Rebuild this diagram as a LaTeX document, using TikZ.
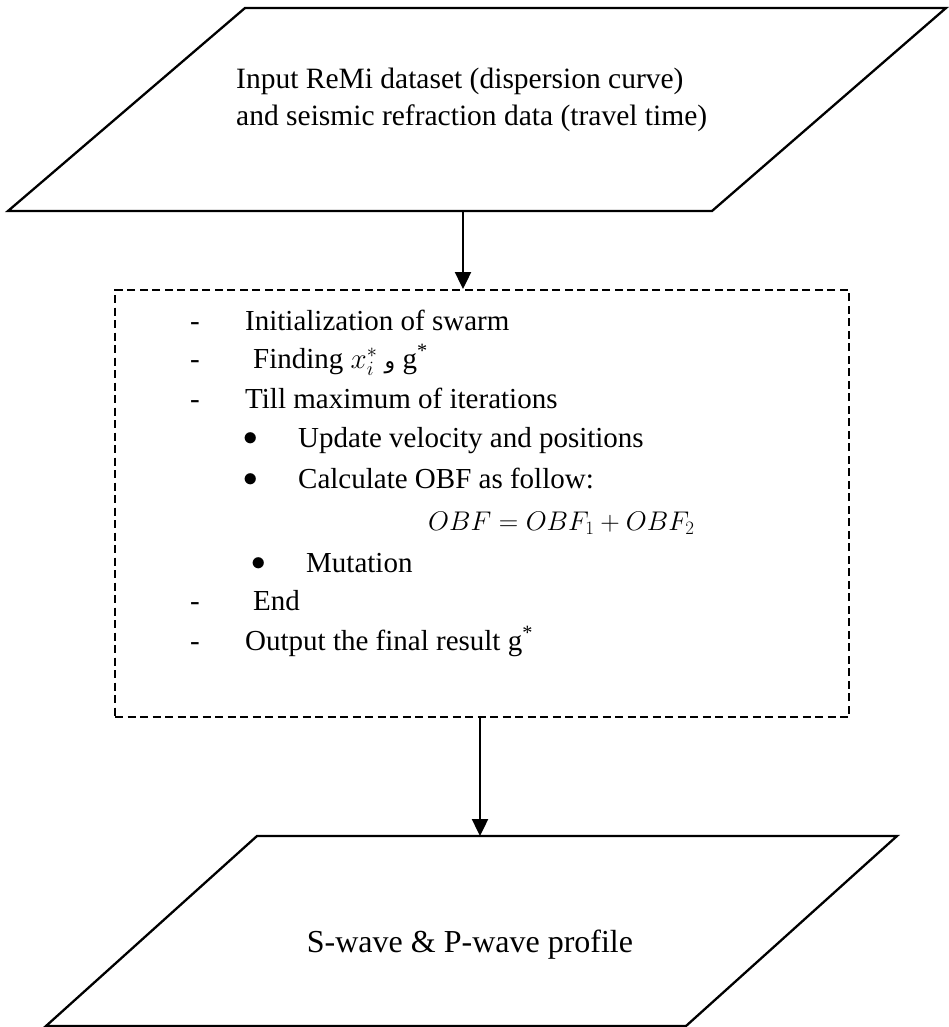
\RequirePackage{fix-cm}
\documentclass[tikz,border=0pt]{standalone}
\usepackage{fontspec}
\setmainfont{Liberation Serif}
\newfontfamily\arabicfont[Script=Arabic]{DejaVu Sans}
\TeXXeTstate=1
\usetikzlibrary{arrows.meta}
\begin{document}
\begin{tikzpicture}[x=1pt,y=-1pt,
  shapeline/.style={line width=2.3pt, line join=miter},
  dashbox/.style={draw, line width=2pt, dash pattern=on 8pt off 4.5pt, minimum width=734pt, minimum height=427pt, inner sep=0pt},
  conn/.style={line width=2.4pt, -{Triangle[length=17pt,width=16pt]}},
  bigtxt/.style={font=\fontsize{29.5}{36}\selectfont, inner sep=0pt, anchor=base west},
  boxtxt/.style={font=\fontsize{29}{36}\selectfont, inner sep=0pt, anchor=base west},
  bul/.style={font=\fontsize{29}{36}\selectfont, inner sep=0pt, anchor=base}]
\useasboundingbox (0,0) rectangle (949,1027);
% top parallelogram
\coordinate (tTL) at (245,8);
\coordinate (tTR) at (946,8);
\coordinate (tBR) at (712,211);
\coordinate (tBL) at (8,211);
\draw[shapeline] (tTL) -- (tTR) -- (tBR) -- (tBL) -- cycle;
\node[bigtxt] (in1) at (236,89) {Input ReMi dataset (dispersion curve)};
\node[bigtxt] (in2) at (236,126) {and seismic refraction data (travel time)};
% dashed process box
\node[dashbox] (proc) at (482,503.5) {};
\coordinate (a1s) at (463,211);
\draw[conn] (a1s) -- (a1s |- proc.north);
% lines in the box
\node[boxtxt] (d1) at (190,330) {-};
\node[boxtxt] (l1) at (245,330) {Initialization of swarm};
\node[boxtxt] (d2) at (190,368) {-};
\node[boxtxt] (l2) at (253,368) {Finding $x_i^*$ {\arabicfont\fontsize{22}{30}\selectfont\beginR و\endR} g\textsuperscript{*}};
\node[boxtxt] (d3) at (190,408) {-};
\node[boxtxt] (l3) at (245,408) {Till maximum of iterations};
\node[bul] (b1) at (251,445) {$\bullet$};
\node[boxtxt] (l4) at (298,447) {Update velocity and positions};
\node[bul] (b2) at (251,486) {$\bullet$};
\node[boxtxt] (l5) at (298,488) {Calculate OBF as follow:};
\node[boxtxt, font=\fontsize{27}{36}\selectfont] (eq) at (428,530) {$OBF = OBF_1 + OBF_2$};
\node[bul] (b3) at (259,570) {$\bullet$};
\node[boxtxt] (l6) at (306,572) {Mutation};
\node[boxtxt] (d4) at (190,610) {-};
\node[boxtxt] (l7) at (253,610) {End};
\node[boxtxt] (d5) at (190,650) {-};
\node[boxtxt] (l8) at (245,650) {Output the final result g\textsuperscript{*}};
% bottom parallelogram
\coordinate (bTL) at (257,836);
\coordinate (bTR) at (897,836);
\coordinate (bBR) at (686,1026);
\coordinate (bBL) at (46,1026);
\draw[shapeline] (bTL) -- (bTR) -- (bBR) -- (bBL) -- cycle;
\node[bigtxt, font=\fontsize{32}{36}\selectfont, anchor=base] (out) at (470,952) {S-wave \& P-wave profile};
\coordinate (a2s) at (480,0);
\draw[conn] (a2s |- proc.south) -- (a2s |- bTL);
\end{tikzpicture}
\end{document}
